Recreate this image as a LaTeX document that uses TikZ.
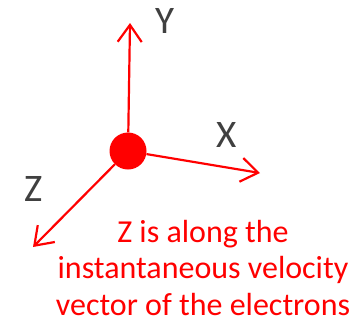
\documentclass[tikz,border=0pt]{standalone}
\usepackage{fontspec}
\setmainfont{Carlito}
\usetikzlibrary{arrows.meta}

\tikzset{
  axis/.style={red, line width=2.2pt, -{Straight Barb[length=17pt,width=24pt,line width=2.2pt]}},
  axlabel/.style={text=black!75, font=\fontsize{39}{39}\selectfont, anchor=base, inner sep=0pt},
}

\begin{document}
\begin{tikzpicture}[x=1pt,y=-1pt]
  \useasboundingbox (0,0) rectangle (358,325);
  \node [circle, fill=red, minimum size=37pt, inner sep=0pt] (e) at (128,151) {};
  \coordinate (ytip) at (130,23);
  \coordinate (xtip) at (260,173);
  \coordinate (ztip) at (33,247);
  \draw [axis] (e) -- (ytip);
  \draw [axis] (e) -- (xtip);
  \draw [axis] (e) -- (ztip);
  \node [axlabel] (ylab) at (165,33) {Y};
  \node [axlabel] (xlab) at (227,147) {X};
  \node [axlabel] (zlab) at (34,201) {Z};
  \node [red, align=center, anchor=base, inner sep=0pt,
         font=\fontsize{32}{36.5}\selectfont] (note) at (203,315)
    {Z is along the\\instantaneous velocity\\vector of the electrons};
\end{tikzpicture}
\end{document}
